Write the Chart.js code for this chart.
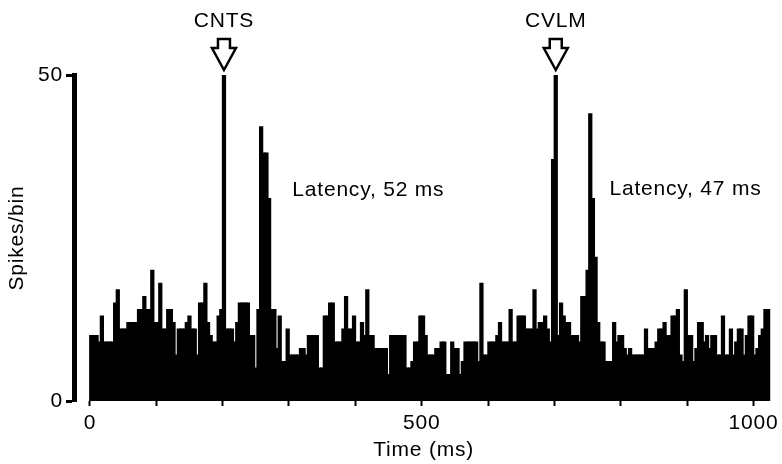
<!DOCTYPE html>
<html>
<head>
<meta charset="utf-8">
<script src="https://cdn.jsdelivr.net/npm/chart.js@4"></script>
<style>
  html, body { margin: 0; padding: 0; background: #fff; }
  #wrap { width: 782px; height: 464px; position: relative; }
</style>
</head>
<body>
<div id="wrap"><canvas id="psth"></canvas></div>
<script>
// peristimulus histogram, 4 ms bins
const BIN_MS = 4

// spikes per bin, 0-252 ms
const counts0 = [10, 10, 10, 9, 13, 9, 9, 9, 9, 15, 17, 11, 11, 11, 12, 12, 12, 12, 14, 14,
  16, 14, 14, 20, 12, 12, 18, 11, 11, 14, 14, 12, 7, 11, 11, 11, 12, 13, 11, 11,
  7, 15, 15, 18, 12, 10, 9, 9, 13, 14, 50, 11, 11, 11, 9, 12, 15, 15, 15, 15,
  10, 10, 5, 14]
// 256-508 ms
const counts1 = [42, 38, 38, 31, 14, 14, 8, 13, 6, 6, 11, 7, 7, 7, 7, 8, 8, 7, 10, 10,
  10, 10, 5, 5, 13, 13, 15, 15, 9, 9, 9, 11, 16, 11, 11, 13, 9, 9, 12, 10,
  17, 10, 10, 8, 8, 8, 8, 8, 4, 10, 10, 10, 10, 10, 10, 5, 5, 6, 9, 9,
  13, 13, 10, 7]
// 512-764 ms
const counts2 = [7, 7, 8, 8, 9, 9, 4, 4, 9, 8, 8, 4, 6, 9, 9, 9, 9, 9, 6, 18,
  7, 7, 9, 9, 9, 10, 12, 9, 9, 9, 14, 9, 9, 13, 13, 13, 11, 11, 11, 17,
  11, 12, 12, 13, 11, 9, 37, 50, 10, 15, 13, 12, 12, 10, 10, 10, 9, 16, 16, 20,
  44, 31, 22, 12]
// 768-1020 ms
const counts3 = [9, 9, 6, 6, 6, 12, 9, 10, 10, 8, 7, 8, 7, 7, 7, 7, 7, 11, 8, 8,
  8, 9, 11, 11, 12, 10, 10, 13, 13, 14, 7, 6, 17, 10, 10, 6, 8, 12, 12, 9,
  10, 8, 10, 10, 7, 7, 13, 7, 7, 11, 7, 9, 11, 11, 7, 10, 13, 13, 7, 8,
  10, 11, 14, 14]

const spikeCounts = [...counts0, ...counts1, ...counts2, ...counts3]
const binCenters = spikeCounts.map((_, i) => i * BIN_MS + BIN_MS / 2)

const xTicks = [0, 500, 1000]
const yTicks = [0, 50]

const stimulusNames = ['CNTS', 'CVLM']
const stimulusTimes = [202, 702]
const latencyTexts = ['Latency, 52 ms', 'Latency, 47 ms']
const latencyTimes = [305, 783]
const latencyLevels = [31.4, 31.6]

const FONT = '"Liberation Sans", Arial, Helvetica, sans-serif'
Chart.defaults.font.family = FONT
Chart.defaults.font.size = 21
Chart.defaults.color = '#000'

// slightly wider type, like the printed figure
const spacing = {
  id: 'spacing',
  beforeDraw(chart) {
    chart.ctx.letterSpacing = '0.8px'
  }
}

const markers = {
  id: 'markers',
  afterDraw(chart) {
    const { ctx, scales: { x, y } } = chart
    ctx.save()
    ctx.fillStyle = '#000'
    ctx.strokeStyle = '#000'
    ctx.font = '21px ' + FONT
    ctx.letterSpacing = '0.8px'
    ctx.textBaseline = 'alphabetic'
    ctx.lineJoin = 'miter'

    stimulusTimes.forEach((t, i) => {
      const px = x.getPixelForValue(t)
      const tip = y.getPixelForValue(50) - 5
      ctx.textAlign = 'center'
      ctx.fillText(stimulusNames[i], px, tip - 43)
      // hollow arrow pointing at the stimulus bin
      ctx.lineWidth = 2.5
      ctx.beginPath()
      ctx.moveTo(px - 6, tip - 31)
      ctx.lineTo(px + 6, tip - 31)
      ctx.lineTo(px + 6, tip - 22)
      ctx.lineTo(px + 12, tip - 22)
      ctx.lineTo(px, tip)
      ctx.lineTo(px - 12, tip - 22)
      ctx.lineTo(px - 6, tip - 22)
      ctx.closePath()
      ctx.stroke()
    })

    ctx.textAlign = 'left'
    latencyTexts.forEach((txt, i) => {
      ctx.fillText(txt, x.getPixelForValue(latencyTimes[i]), y.getPixelForValue(latencyLevels[i]))
    })
    ctx.restore()
  }
}

new Chart(document.getElementById('psth'), {
  type: 'bar',
  data: {
    datasets: [{
      data: binCenters.map((t, i) => ({ x: t, y: spikeCounts[i] })),
      backgroundColor: '#000',
      borderWidth: 0,
      barPercentage: 1.0,
      categoryPercentage: 1.0,
      inflateAmount: 0.8,
    }],
  },
  options: {
    responsive: true,
    maintainAspectRatio: false,
    animation: false,
    devicePixelRatio: 1,
    layout: { padding: { top: 75, right: 5, left: 0, bottom: 0 } },
    plugins: { legend: { display: false }, tooltip: { enabled: false } },
    scales: {
      x: {
        type: 'linear',
        offset: false,
        min: -24,
        max: 1030,
        border: { display: false },
        grid: { offset: false, drawOnChartArea: false, drawTicks: true, tickLength: 5, tickWidth: 2, tickColor: '#000' },
        ticks: {
          stepSize: 100,
          includeBounds: false,
          padding: 5,
          maxRotation: 0,
          autoSkip: false,
          callback: (v) => (xTicks.includes(v) ? v : ''),
        },
        title: { display: true, text: 'Time (ms)', padding: { top: 0, bottom: 1 } },
        afterFit: (s) => { s.height = 63 },
      },
      y: {
        min: 0,
        max: 50,
        border: { display: true, width: 5, color: '#000' },
        grid: { drawOnChartArea: false, drawTicks: true, tickLength: 8, tickWidth: 3, tickColor: '#000' },
        ticks: {
          stepSize: 50,
          padding: 3,
          callback: (v) => (yTicks.includes(v) ? v : ''),
        },
        title: { display: true, text: 'Spikes/bin', padding: { top: 5, bottom: 0 } },
        afterFit: (s) => { s.width = 74 },
      },
    },
  },
  plugins: [spacing, markers],
})
</script>
</body>
</html>
